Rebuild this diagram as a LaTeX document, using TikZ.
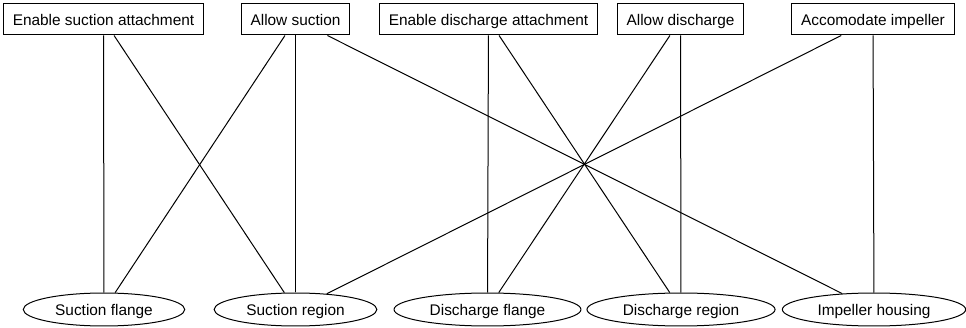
\documentclass[tikz,border=0pt]{standalone}
\usepackage{fontspec}
\setmainfont{Liberation Sans}
\usetikzlibrary{shapes.geometric}

\begin{document}
\begin{tikzpicture}[x=1pt,y=-1pt,
	font=\fontsize{15.4}{18}\selectfont,
	fn/.style={shape=rectangle,draw=black,line width=1pt,inner xsep=9.5pt,inner ysep=0pt,text height=13pt,text depth=0pt,minimum height=31pt},
	part/.style={shape=ellipse,draw=black,line width=1pt,inner xsep=8.3pt,inner ysep=0pt,text height=11.5pt,text depth=0pt,minimum height=33pt}]
	\useasboundingbox (0,0) rectangle (966,328);

	\node[fn] (1) at (103.5,19.5) {Enable suction attachment};
	\node[fn] (2) at (295.5,19.5) {Allow suction};
	\node[fn] (3) at (488.5,19.5) {Enable discharge attachment};
	\node[fn] (4) at (680.5,19.5) {Allow discharge};
	\node[fn] (5) at (873,19.5) {Accomodate impeller};

	\node[part] (6) at (104,309.5) {Suction flange};
	\node[part] (7) at (295.5,309.5) {Suction region};
	\node[part] (8) at (487.5,309.5) {Discharge flange};
	\node[part] (9) at (681,309.5) {Discharge region};
	\node[part] (10) at (874,309.5) {Impeller housing};

	\path [-,line width=1pt] (1) edge (6);
	\path [-,line width=1pt] (1) edge (7);
	\path [-,line width=1pt] (2) edge (6);
	\path [-,line width=1pt] (2) edge (7);
	\path [-,line width=1pt] (2) edge (10);
	\path [-,line width=1pt] (3) edge (8);
	\path [-,line width=1pt] (3) edge (9);
	\path [-,line width=1pt] (4) edge (8);
	\path [-,line width=1pt] (4) edge (9);
	\path [-,line width=1pt] (5) edge (7);
	\path [-,line width=1pt] (5) edge (10);
\end{tikzpicture}
\end{document}
